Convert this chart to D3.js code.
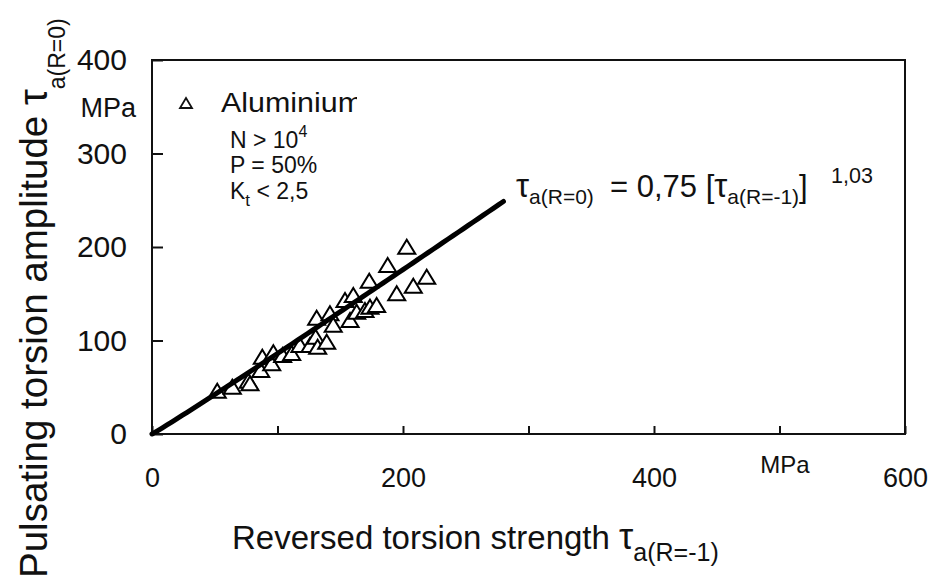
<!DOCTYPE html>
<html>
<head>
<meta charset="utf-8">
<script src="https://cdn.jsdelivr.net/npm/d3@7"></script>
<style>
  html, body { margin: 0; padding: 0; background: #fff; }
  svg { display: block; font-family: "Liberation Sans", Arial, sans-serif; }
</style>
</head>
<body>
<svg id="chart" width="946" height="579"></svg>
<script>
// Reversed torsion strength tau_a(R=-1) [MPa] of the aluminium specimens
const tauReversed = [52.0, 64.0, 76.7, 78.1, 86.6, 87.9, 95.4, 96.7, 104.1, 111.3,
  117.9, 125.9, 130.4, 132.0, 131.2, 139.2, 141.8, 144.4, 153.8, 157.8,
  160.4, 163.1, 169.7, 173.7, 179.0, 173.1, 187.8, 195.0, 203.0, 208.2, 218.9];
// Pulsating torsion amplitude tau_a(R=0) [MPa] for the same specimens
const tauPulsating = [46.3, 50.6, 57.0, 54.2, 68.4, 82.7, 75.6, 87.4, 84.5, 86.6,
  95.2, 95.2, 104.1, 93.4, 124.4, 98.7, 129.1, 116.8, 143.3, 121.9,
  148.7, 130.8, 132.6, 136.1, 138.0, 164.0, 180.7, 150.5, 200.3, 158.6, 168.2];

// Fitted relation tau_a(R=0) = 0.75 * tau_a(R=-1)^1.03, drawn up to 280 MPa
const fitCoef = 0.75;
const fitExp = 1.03;
const fitRange = [0, 280];

const xTicks = [0, 100, 200, 300, 400, 500, 600];
const xTickLabels = ["0", "", "200", "", "400", "", "600"];
const yTicks = [0, 100, 200, 300, 400];
const yTickLabels = ["0", "100", "200", "300", "400"];

const svg = d3.select("#chart");
const x = d3.scaleLinear().domain([0, 600]).range([152, 905]);
const y = d3.scaleLinear().domain([0, 400]).range([434, 60]);

// frame
svg.append("rect")
  .attr("x", x(0)).attr("y", y(400))
  .attr("width", x(600) - x(0)).attr("height", y(0) - y(400))
  .attr("fill", "none").attr("stroke", "#111").attr("stroke-width", 2);

// axes with inward ticks
const xAxis = d3.axisBottom(x)
  .tickValues(xTicks)
  .tickFormat((d, i) => xTickLabels[i])
  .tickSizeInner(-8).tickSizeOuter(0).tickPadding(34);
const gx = svg.append("g").attr("transform", `translate(0,${y(0)})`).call(xAxis);
gx.select(".domain").remove();
gx.selectAll("line").attr("stroke", "#111").attr("stroke-width", 2);
gx.selectAll("text").attr("font-size", 27).attr("fill", "#111")
  .attr("font-family", "Liberation Sans Narrow, Liberation Sans, Arial, sans-serif");

const yAxis = d3.axisLeft(y)
  .tickValues(yTicks)
  .tickFormat((d, i) => yTickLabels[i])
  .tickSizeInner(-11).tickSizeOuter(0).tickPadding(25);
const gy = svg.append("g").attr("transform", `translate(${x(0)},0)`).call(yAxis);
gy.select(".domain").remove();
gy.selectAll("line").attr("stroke", "#111").attr("stroke-width", 2);
gy.selectAll("text").attr("font-size", 30).attr("fill", "#111")
  .attr("font-family", "Liberation Sans, Arial, sans-serif");

// unit labels
svg.append("text").attr("x", 136).attr("y", 117).attr("text-anchor", "end")
  .attr("font-size", 27).attr("fill", "#111").text("MPa");
svg.append("text").attr("x", 785).attr("y", 473).attr("text-anchor", "middle")
  .attr("font-size", 24).attr("fill", "#111").text("MPa");

// data points
const tri = "M0,-7L8.5,7L-8.5,7Z";
svg.append("g").selectAll("path")
  .data(tauReversed.map((v, i) => [v, tauPulsating[i]]))
  .join("path")
  .attr("d", tri)
  .attr("transform", d => `translate(${x(d[0])},${y(d[1])})`)
  .attr("fill", "#fff").attr("stroke", "#000").attr("stroke-width", 2);

// fit line
const fitPts = d3.range(fitRange[0], fitRange[1] + 0.001, 4)
  .map(v => [v, fitCoef * Math.pow(v, fitExp)]);
svg.append("path")
  .attr("d", d3.line().x(d => x(d[0])).y(d => y(d[1]))(fitPts))
  .attr("fill", "none").attr("stroke", "#000").attr("stroke-width", 5)
  .attr("stroke-linecap", "round");

// legend
svg.append("path").attr("d", "M0,-5L6,5L-6,5Z")
  .attr("transform", "translate(186,103)")
  .attr("fill", "none").attr("stroke", "#111").attr("stroke-width", 1.8);
svg.append("clipPath").attr("id", "legclip")
  .append("rect").attr("x", 200).attr("y", 80).attr("width", 157).attr("height", 40);
svg.append("text").attr("x", 221).attr("y", 112).attr("font-size", 27)
  .attr("fill", "#111").attr("clip-path", "url(#legclip)")
  .attr("textLength", 142).attr("lengthAdjust", "spacingAndGlyphs")
  .text("Aluminium");

const cond = svg.append("g").attr("font-size", 23).attr("fill", "#111");
const t1 = cond.append("text").attr("x", 230).attr("y", 148);
t1.append("tspan").text("N > 10");
t1.append("tspan").attr("font-size", 16).attr("dy", -11).text("4");
cond.append("text").attr("x", 230).attr("y", 173).text("P = 50%");
const t3 = cond.append("text").attr("x", 230).attr("y", 199);
t3.append("tspan").text("K");
t3.append("tspan").attr("font-size", 17).attr("dy", 7).text("t");
t3.append("tspan").attr("dy", -7).text(" < 2,5");

// equation of the fit
const eq = svg.append("text").attr("x", 516).attr("y", 197).attr("fill", "#111").attr("font-size", 31);
eq.append("tspan").attr("font-size", 33).text("τ");
eq.append("tspan").attr("font-size", 21).attr("dy", 7).text("a(R=0)");
eq.append("tspan").attr("x", 610).attr("dy", -7).text("= 0,75 [");
eq.append("tspan").attr("font-size", 33).text("τ");
eq.append("tspan").attr("font-size", 21).attr("dy", 7).text("a(R=-1)");
eq.append("tspan").attr("dy", -7).text("]");
eq.append("tspan").attr("x", 831).attr("dy", -14).attr("font-size", 21.5).text("1,03");

// x axis title
const xt = svg.append("text").attr("x", 232).attr("y", 549).attr("font-size", 33).attr("fill", "#111");
xt.append("tspan").text("Reversed torsion strength ");
xt.append("tspan").attr("font-size", 36).text("τ");
xt.append("tspan").attr("font-size", 25).attr("dy", 12).text("a(R=-1)");

// y axis title
const yt = svg.append("text")
  .attr("transform", "translate(47,578) rotate(-90)")
  .attr("font-size", 38.5).attr("fill", "#111");
yt.append("tspan").text("Pulsating torsion amplitude ");
yt.append("tspan").attr("font-size", 40).text("τ");
yt.append("tspan").attr("font-size", 23).attr("dy", 18).text("a(R=0)");
</script>
</body>
</html>
